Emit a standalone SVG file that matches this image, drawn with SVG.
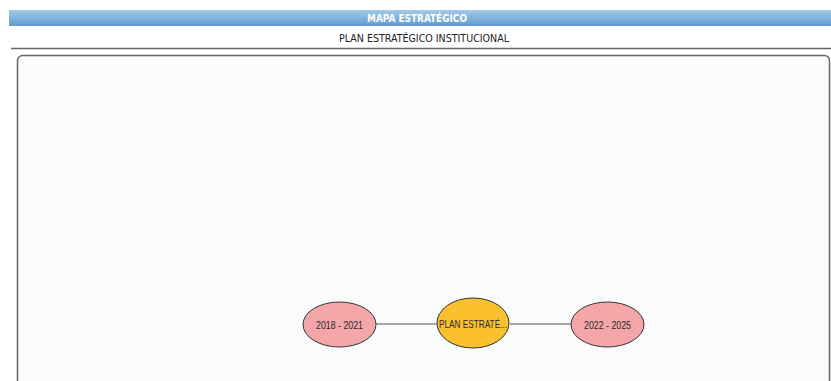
<svg xmlns="http://www.w3.org/2000/svg" width="831" height="381" viewBox="0 0 831 381">
  <defs>
    <linearGradient id="hdr" x1="0" y1="0" x2="0" y2="1">
      <stop offset="0" stop-color="#a3c9e8"/>
      <stop offset="0.5" stop-color="#82b3dd"/>
      <stop offset="1" stop-color="#6399ca"/>
    </linearGradient>
  </defs>
  <style>
    .title { font-family: "DejaVu Sans Condensed", "Liberation Sans", sans-serif; font-size: 11px; text-anchor: middle; }
    .node ellipse { stroke: #333; stroke-width: 1; }
    .pink { fill: #f4a6a8; }
    .gold { fill: #fbc02d; }
    .node text { font-family: "Liberation Sans", Arial, sans-serif; font-size: 10px; fill: #2a2a2a; text-anchor: middle; dominant-baseline: central; }
    .edge { stroke: #555; stroke-width: 1.2; fill: none; }
  </style>

  <rect x="0" y="0" width="831" height="381" fill="#ffffff"/>

  <!-- header bar -->
  <rect x="9" y="10" width="822" height="16" fill="url(#hdr)"/>
  <text class="title" x="417" y="22" fill="#ffffff" font-weight="bold" textLength="100" lengthAdjust="spacingAndGlyphs">MAPA ESTRATÉGICO</text>

  <!-- subtitle -->
  <text class="title" x="424" y="42" fill="#222" textLength="170" lengthAdjust="spacingAndGlyphs">PLAN ESTRATÉGICO INSTITUCIONAL</text>
  <line x1="11" y1="48.5" x2="831" y2="48.5" stroke="#666" stroke-width="1.5"/>

  <!-- map panel -->
  <rect x="17.5" y="55.5" width="812" height="340" rx="5" ry="5" fill="#f9fcfb" stroke="#666" stroke-width="1.5"/>

  <!-- connectors -->
  <g id="edges">
    <line class="edge" x1="376" y1="324" x2="437" y2="324"/>
    <line class="edge" x1="510" y1="324" x2="571" y2="324"/>
  </g>

  <g id="n2018" class="node">
    <ellipse class="pink" cx="339.5" cy="324.5" rx="36.5" ry="22.5"/>
    <text x="339.5" y="325" textLength="47" lengthAdjust="spacingAndGlyphs">2018 - 2021</text>
  </g>
  <g id="plan" class="node">
    <ellipse class="gold" cx="473" cy="323" rx="36" ry="25"/>
    <text x="473" y="324" textLength="68" lengthAdjust="spacingAndGlyphs">PLAN ESTRATÉ...</text>
  </g>
  <g id="n2022" class="node">
    <ellipse class="pink" cx="607.5" cy="324.5" rx="36.5" ry="22.5"/>
    <text x="607.5" y="325" textLength="47" lengthAdjust="spacingAndGlyphs">2022 - 2025</text>
  </g>
</svg>
